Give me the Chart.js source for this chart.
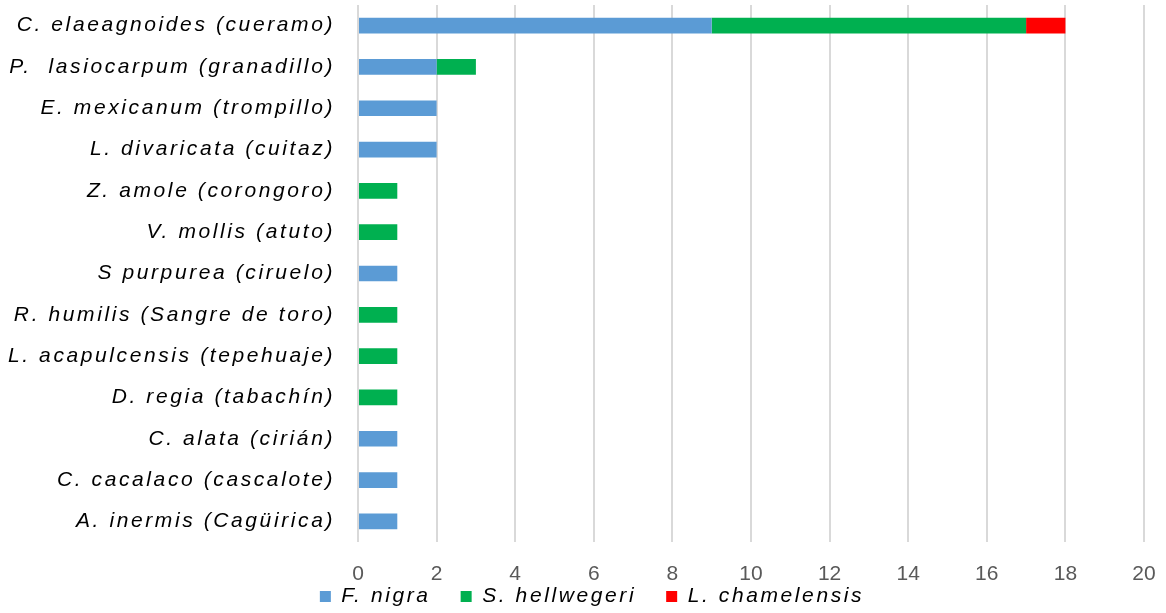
<!DOCTYPE html>
<html>
<head>
<meta charset="utf-8">
<script src="https://cdn.jsdelivr.net/npm/chart.js@4/dist/chart.umd.min.js"></script>
<style>
  html, body { margin: 0; padding: 0; background: #fff; }
  #wrap { width: 1166px; height: 613px; }
</style>
</head>
<body>
<div id="wrap"><canvas id="chart" width="1166" height="613"></canvas></div>
<script>
// species (category axis), top to bottom
const species = [
    'C. elaeagnoides (cueramo)',
    'P.  lasiocarpum (granadillo)',
    'E. mexicanum (trompillo)',
    'L. divaricata (cuitaz)',
    'Z. amole (corongoro)',
    'V. mollis (atuto)',
    'S purpurea (ciruelo)',
    'R. humilis (Sangre de toro)',
    'L. acapulcensis (tepehuaje)',
    'D. regia (tabachín)',
    'C. alata (cirián)',
    'C. cacalaco (cascalote)',
    'A. inermis (Cagüirica)'
];

const fNigra       = [9, 2, 2, 2, 0, 0, 1, 0, 0, 0, 1, 1, 1];
const sHellwegeri  = [8, 1, 0, 0, 1, 1, 0, 1, 1, 1, 0, 0, 0];
const lChamelensis = [1, 0, 0, 0, 0, 0, 0, 0, 0, 0, 0, 0, 0];

const seriesNames = ['F. nigra', 'S. hellwegeri', 'L. chamelensis'];
const xTicks = { min: 0, max: 20, step: 2 };

const labelFont = '"Liberation Sans", Arial, sans-serif';
const tickFont = '"Liberation Sans", Arial, sans-serif';
const wideSpacing = '2.6px';

function bar(label, data, color) {
    return {
        label,
        data,
        backgroundColor: color,
        borderWidth: 0,
        categoryPercentage: 1,
        barPercentage: 0.38
    };
}

// the original labels are set with loose tracking; numbers are not
const spacingPlugin = {
    id: 'spacing',
    beforeUpdate(chart) {
        chart.ctx.letterSpacing = wideSpacing;
    },
    afterUpdate(chart) {
        const x = chart.scales.x;
        if (x && !x._plainLabels) {
            const draw = x.drawLabels;
            x.drawLabels = function(area) {
                const c = this.ctx;
                const prev = c.letterSpacing;
                c.letterSpacing = '0px';
                draw.call(this, area);
                c.letterSpacing = prev;
            };
            // tick labels sit lower than the (squeezed) axis box
            x._computeLabelArea = () => undefined;
            x._plainLabels = true;
        }
        // centre the legend row without the trailing item padding
        if (chart.legend && chart.legend.lineWidths) {
            chart.legend.lineWidths[0] -= 40;
        }
    }
};

const ctx = document.getElementById('chart').getContext('2d');
new Chart(ctx, {
    type: 'bar',
    data: {
        labels: species,
        datasets: [
            bar(seriesNames[0], fNigra, '#5b9bd5'),
            bar(seriesNames[1], sHellwegeri, '#00b050'),
            bar(seriesNames[2], lChamelensis, '#ff0000')
        ]
    },
    options: {
        indexAxis: 'y',
        responsive: false,
        animation: false,
        layout: { padding: { left: 0, right: 22, top: 5, bottom: -4 } },
        plugins: {
            legend: {
                display: true,
                position: 'bottom',
                labels: {
                    color: '#000',
                    font: { family: labelFont, size: 21, style: 'italic' },
                    usePointStyle: true,
                    pointStyle: 'rect',
                    boxWidth: 11,
                    boxHeight: 11,
                    padding: 30
                }
            },
            tooltip: { enabled: false }
        },
        scales: {
            x: {
                stacked: true,
                min: xTicks.min,
                max: xTicks.max,
                ticks: {
                    stepSize: xTicks.step,
                    color: '#595959',
                    font: { family: tickFont, size: 21 },
                    padding: 20
                },
                grid: {
                    color: '#d9d9d9',
                    lineWidth: 2,
                    drawTicks: false
                },
                border: { display: false },
                afterFit: scale => {
                    scale.height = 14;
                    scale.paddingLeft = 0;
                    scale.paddingRight = 0;
                }
            },
            y: {
                stacked: true,
                ticks: {
                    color: '#000',
                    font: { family: labelFont, size: 21, style: 'italic' },
                    padding: 15
                },
                grid: { display: false },
                border: { display: false },
                afterFit: scale => {
                    scale.width = 358;
                    scale.paddingTop = 0;
                    scale.paddingBottom = 0;
                }
            }
        }
    },
    plugins: [spacingPlugin]
});
</script>
</body>
</html>
